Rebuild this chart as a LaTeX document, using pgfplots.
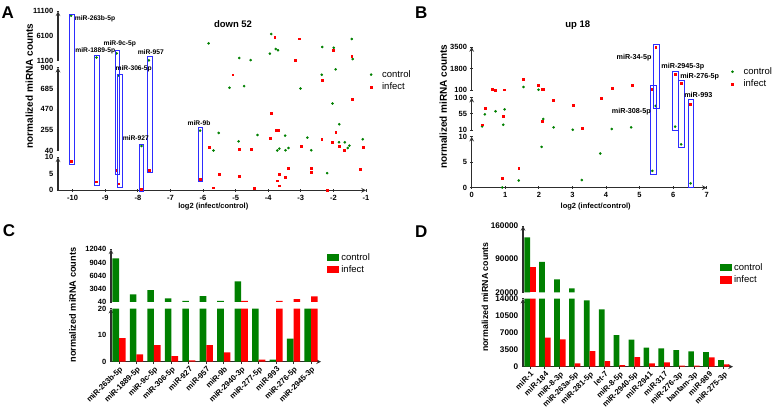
\documentclass[border=0pt]{standalone}
\usepackage{pgfplots}
\pgfplotsset{compat=1.18}
\usepackage{pgfplotstable}
\usepackage{fontspec}
\setmainfont{Liberation Sans}
\definecolor{cg}{RGB}{0,128,0}
\definecolor{cr}{RGB}{255,0,0}
\definecolor{cb}{RGB}{45,45,255}
\definecolor{axc}{RGB}{45,45,45}
\newcommand{\tf}{\bfseries\fontsize{7.5}{8}\selectfont}
\newcommand{\lf}{\fontsize{9.5}{11}\selectfont}
\newcommand{\af}{\bfseries\fontsize{6.7}{7}\selectfont}
\newcommand{\bbf}{\bfseries\fontsize{7.2}{8}\selectfont}

\pgfplotstableread{
x y
-10.05 10220
-9.27 1750
-8.65 2590
-7.66 1170
-3.91 6500
-5.83 4615
-1.44 5494
-2.34 3870
-1.99 3736
-3.77 3466
-3.70 3196
-3.95 2520
-4.89 1640
-4.54 1235
-1.41 1440
-8.59 820
-7.89 89
-6.09 248
-2.36 827
-1.93 883
-5.19 692
-4.74 709
-3.01 685
-2.03 529
-1.82 314
-5.52 224
-4.33 203
-3.48 196
-2.80 175
-1.10 158
-4.91 137
-5.68 42
-3.72 42
-3.66 61
-3.47 45
-3.38 68
-2.68 45
-1.83 127
-1.65 127
-1.56 68
-1.51 92
-2.19 5.2
}\Agreen

\pgfplotstableread{
x y
-3.80 5832
-3.04 5560
-2.01 3196
-3.17 1235
-1.44 1980
-5.09 827
-2.34 772
-1.41 570
-3.91 425
-1.93 231
-3.76 255
-3.70 248
-3.94 168
-2.36 158
-5.82 80
-4.89 54
-4.53 54
-3.00 82
-2.03 127
-1.83 89
-1.66 42
-1.09 75
-10.05 8.7
-9.27 2.6
-8.65 6.2
-8.59 2.0
-7.89 0.3
-7.66 6.2
-6.09 3.4
-5.51 4.8
-4.90 4.4
-5.68 0.8
-4.43 0.5
-3.39 6.8
-3.66 4.9
-3.47 4.1
-3.72 2.9
-3.66 1.4
-2.68 6.6
-2.68 5.4
-2.19 0.1
-1.19 6.5
}\Ared

\pgfplotstableread{
x y
1.54 337
1.99 126
0.39 53.6
0.71 62
0.98 67.5
0.94 24.8
0.31 20
2.13 40.6
2.44 17.4
3.01 10.5
4.17 12.8
4.75 17.4
5.48 77
6.06 19.3
2.08 8.0
3.83 6.7
1.40 1.4
0.91 0.05
3.28 1.5
5.38 3.3
6.24 8.5
6.52 0.85
}\Bgreen

\pgfplotstableread{
x y
0.62 150
0.71 110
0.98 125
1.54 943
1.99 495
2.09 153
2.14 179
4.18 232
4.77 495
5.48 3450
5.38 150
6.06 1339
6.24 627
2.44 94
3.01 79.6
3.85 98
0.40 70
0.94 48
0.31 24.8
2.09 35
3.28 14.6
6.52 82
1.40 3.8
0.91 1.8
}\Bred

\pgfplotstableread{
i ctrl inf
0 10000 8.9
1 1780 2.8
2 2770 6.3
3 875 2.1
4 270 0.5
5 1400 6.3
6 300 3.5
7 4750 270
8 30 0.8
9 0.8 270
10 8.7 700
11 35 1330
}\Cdata

\pgfplotstableread{
i ctrl inf
0 136000 72800
1 84000 5970
2 47400 5630
3 28400 690
4 13650 3220
5 11800 1170
6 6500 340
7 5560 1990
8 3910 690
9 3770 890
10 3430 200
11 3160 200
12 3020 1920
13 1370 480
}\Ddata

\pgfplotsset{
  base/.style={scale only axis, anchor=south west,
    axis line style={-, draw=axc, line width=1.1pt},
    major tick style={draw=axc, line width=0.9pt},
    major tick length=2.5pt, tick align=outside, scaled ticks=false,
    /pgf/number format/fixed, /pgf/number format/1000 sep={}, /pgf/number format/assume math mode=true,
    tick label style={font=\tf}},
  lower/.style={base, axis x line=bottom, axis y line=left},
  upper/.style={base, axis x line=none, axis y line=left},
  gpt/.style={only marks, mark=*, mark size=1.1pt, color=cg},
  rpt/.style={only marks, mark=square*, mark size=0.95pt, color=cr},
  dot/.style={legend image code/.code={\path[draw=none,fill=none] (0pt,-0.1pt) rectangle (13pt,0.1pt); \draw[##1] plot coordinates {(4pt,0pt)};}},
  sw/.style={legend image code/.code={\fill[##1] (0pt,-3.7pt) rectangle (12.5pt,3.7pt);}},
  scleg/.style={legend style={draw=none, fill=none, inner sep=0pt, anchor=west, font=\lf, row sep=0pt}, legend cell align=left},
}

\begin{document}
\begin{tikzpicture}[x=1pt,y=1pt]
\path[use as bounding box] (0,0) rectangle (778,414);

% ---------------- Panel A ----------------
\begin{axis}[lower, at={(58pt,223.7pt)}, width=308pt, height=33pt,
  xmin=-10.45, xmax=-1, ymin=0, ymax=10, xtick={-10,...,-1}, ytick={0,5,10},
  clip=false, restrict y to domain=0:10]
\addplot[gpt] table[x=x,y=y] {\Agreen};
\addplot[rpt] table[x=x,y=y] {\Ared};
\coordinate (a1b) at (axis cs:-9.94,7.7);
\coordinate (a2b) at (axis cs:-9.19,1.6);
\coordinate (a3b) at (axis cs:-8.55,4.85);
\coordinate (a4b) at (axis cs:-8.46,0.8);
\coordinate (a5b) at (axis cs:-7.82,-0.4);
\coordinate (a6b) at (axis cs:-7.54,5.25);
\coordinate (a7b) at (axis cs:-6.01,2.7);
\end{axis}
\begin{axis}[upper, at={(58pt,263.3pt)}, width=308pt, height=83pt,
  xmin=-10.45, xmax=-1, ymin=40, ymax=900, ytick={40,255,470,685,900},
  clip=false, restrict y to domain=40:900, scleg,
  legend style={at={(rel axis cs:1.003,0.842)}}]
\addplot[gpt, dot] table[x=x,y=y] {\Agreen};
\addplot[rpt, dot] table[x=x,y=y] {\Ared};
\legend{control,infect}
\coordinate (a4t) at (axis cs:-8.63,827);
\coordinate (a5t) at (axis cs:-7.95,109);
\coordinate (a7t) at (axis cs:-6.14,283);
\end{axis}
\begin{axis}[upper, at={(58pt,353.3pt)}, width=308pt, height=49.4pt,
  xmin=-10.45, xmax=-1, ymin=1100, ymax=11100, ytick={1100,6100,11100},
  clip=false, restrict y to domain=1100:11100]
\addplot[gpt] table[x=x,y=y] {\Agreen};
\addplot[rpt] table[x=x,y=y] {\Ared};
\coordinate (a1t) at (axis cs:-10.11,10492);
\coordinate (a2t) at (axis cs:-9.32,2249);
\coordinate (a3t) at (axis cs:-8.70,3263);
\coordinate (a6t) at (axis cs:-7.71,1911);
\end{axis}
\foreach \k in {1,...,7} {\draw[cb, line width=1pt] (a\k t) rectangle (a\k b);}
\node[anchor=west, inner sep=0pt, font=\af] at (74.7,395) {miR-263b-5p};
\node[inner sep=0pt, font=\af] at (95.3,363.7) {miR-1889-5p};
\node[inner sep=0pt, font=\af] at (119.8,370.7) {miR-9c-5p};
\node[inner sep=0pt, font=\af] at (133.7,345) {miR-306-5p};
\node[inner sep=0pt, font=\af] at (150.8,362) {miR-957};
\node[inner sep=0pt, font=\af] at (135.8,276) {miR-927};
\node[inner sep=0pt, font=\af] at (199,290.7) {miR-9b};
\node[font=\bfseries\fontsize{9.5}{11}\selectfont] at (233,390) {down 52};
\node[font=\bfseries\fontsize{7.5}{9}\selectfont] at (213.3,207.3) {log2 (infect/control)};
\node[rotate=90, font=\bfseries\fontsize{10}{12}\selectfont] at (29.3,328) {normalized miRNA counts};
\node[anchor=base west, inner sep=0pt, font=\bfseries\fontsize{17}{20}\selectfont] at (1.5,395.7) {A};

% ---------------- Panel B ----------------
\begin{axis}[lower, at={(471.7pt,226.3pt)}, width=235pt, height=51pt,
  xmin=0, xmax=7, ymin=0, ymax=10, xtick={0,...,7}, ytick={0,5,10},
  clip=false, restrict y to domain=0:10]
\addplot[gpt] table[x=x,y=y] {\Bgreen};
\addplot[rpt] table[x=x,y=y] {\Bred};
\coordinate (b2b) at (axis cs:5.49,2.55);
\coordinate (b4b) at (axis cs:6.33,7.84);
\coordinate (b5b) at (axis cs:6.62,0);
\end{axis}
\begin{axis}[upper, at={(471.7pt,284pt)}, width=235pt, height=32.3pt,
  xmin=0, xmax=7, ymin=10, ymax=100, ytick={10,55,100},
  clip=false, restrict y to domain=10.01:100]
\addplot[gpt] table[x=x,y=y] {\Bgreen};
\addplot[rpt] table[x=x,y=y] {\Bred};
\coordinate (b1b) at (axis cs:5.59,71);
\coordinate (b3b) at (axis cs:6.15,7.2);
\coordinate (b5t) at (axis cs:6.45,95.3);
\end{axis}
\begin{axis}[upper, at={(471.7pt,324pt)}, width=235pt, height=43pt,
  xmin=0, xmax=7, ymin=100, ymax=3500, ytick={100,1800,3500},
  clip=false, restrict y to domain=100.01:3500, scleg,
  legend style={at={(rel axis cs:1.092,0.279)}}]
\addplot[gpt, dot] table[x=x,y=y] {\Bgreen};
\addplot[rpt, dot] table[x=x,y=y] {\Bred};
\legend{control,infect}
\coordinate (b1t) at (axis cs:5.41,3659);
\coordinate (b2t) at (axis cs:5.32,416);
\coordinate (b3t) at (axis cs:5.98,1550);
\coordinate (b4t) at (axis cs:6.17,812);
\end{axis}
\foreach \k in {1,...,5} {\draw[cb, line width=1pt] (b\k t) rectangle (b\k b);}
\node[inner sep=0pt, font=\bbf] at (634,356) {miR-34-5p};
\node[inner sep=0pt, font=\bbf] at (682.8,347) {miR-2945-3p};
\node[inner sep=0pt, font=\bbf] at (699.7,337.7) {miR-276-5p};
\node[inner sep=0pt, font=\bbf] at (698.3,318.7) {miR-993};
\node[inner sep=0pt, font=\bbf] at (631.3,302) {miR-308-5p};
\node[font=\bfseries\fontsize{9.5}{11}\selectfont] at (577.7,388.7) {up 18};
\node[font=\bfseries\fontsize{7.5}{9}\selectfont] at (595.7,207.3) {log2 (infect/control)};
\node[rotate=90, font=\bfseries\fontsize{10}{12}\selectfont] at (443.3,307.3) {normalized miRNA counts};
\node[anchor=base west, inner sep=0pt, font=\bfseries\fontsize{17}{20}\selectfont] at (415,395.7) {B};

% ---------------- Panel C ----------------
\begin{axis}[lower, at={(111pt,52.3pt)}, width=210pt, height=53pt,
  xmin=-0.46, xmax=11.57, ymin=0, ymax=20, ytick={0,10,20},
  ybar=0pt, bar width=6.6pt, xtick={0,...,11}, restrict y to domain*=0:20,
  xticklabels={miR-263b-5p,miR-1889-5p,miR-9c-5p,miR-306-5p,miR-927,miR-957,miR-9b,miR-2940-3p,miR-277-5p,miR-993,miR-276-5p,miR-2945-3p},
  xticklabel style={rotate=45, anchor=north east, inner sep=1pt, font=\bfseries\fontsize{7.8}{8}\selectfont}]
\addplot[fill=cg, draw=none] table[x=i,y=ctrl] {\Cdata};
\addplot[fill=cr, draw=none] table[x=i,y=inf] {\Cdata};
\end{axis}
\begin{axis}[upper, at={(111pt,112pt)}, width=210pt, height=52.7pt,
  xmin=-0.46, xmax=11.57, ymin=40, ymax=12040, ytick={40,3040,6040,9040,12040},
  ybar=0pt, bar width=6.6pt, scleg, restrict y to domain=40:12040,
  legend style={at={(rel axis cs:1.027,0.73)}}]
\addplot[fill=cg, draw=none, sw] table[x=i,y=ctrl] {\Cdata};
\addplot[fill=cr, draw=none, sw] table[x=i,y=inf] {\Cdata};
\legend{control,infect}
\end{axis}
\node[rotate=90, font=\bfseries\fontsize{9.2}{11}\selectfont] at (72.7,109) {normalized miRNA counts};
\node[anchor=base west, inner sep=0pt, font=\bfseries\fontsize{17}{20}\selectfont] at (2.7,177) {C};

% ---------------- Panel D ----------------
\begin{axis}[lower, at={(523pt,47.3pt)}, width=210pt, height=68pt,
  xmin=-0.47, xmax=13.62, ymin=0, ymax=14000, ytick={0,3500,7000,10500,14000},
  ybar=0pt, bar width=5.7pt, xtick={0,...,13}, restrict y to domain*=0:14000,
  tick label style={font=\bfseries\fontsize{8.2}{9}\selectfont},
  xticklabels={miR-1,miR-184,miR-8-3p,miR-263a-5p,miR-281-5p,let-7,miR-8-5p,miR-2940-5p,miR-2941,miR-317,miR-276-3p,bantam-3p,miR-989,miR-275-3p},
  xticklabel style={rotate=45, anchor=north east, inner sep=1pt, font=\bfseries\fontsize{7.8}{8}\selectfont}]
\addplot[fill=cg, draw=none] table[x=i,y=ctrl] {\Ddata};
\addplot[fill=cr, draw=none] table[x=i,y=inf] {\Ddata};
\end{axis}
\begin{axis}[upper, at={(523pt,121.7pt)}, width=210pt, height=66.3pt,
  xmin=-0.47, xmax=13.62, ymin=20000, ymax=160000, ytick={20000,90000,160000},
  tick label style={font=\bfseries\fontsize{8.2}{9}\selectfont},
  ybar=0pt, bar width=5.7pt, scleg, restrict y to domain=20000:160000,
  legend style={at={(rel axis cs:0.935,0.28)}}]
\addplot[fill=cg, draw=none, sw] table[x=i,y=ctrl] {\Ddata};
\addplot[fill=cr, draw=none, sw] table[x=i,y=inf] {\Ddata};
\legend{control,infect}
\end{axis}
\node[rotate=90, font=\bfseries\fontsize{8.8}{11}\selectfont] at (485,117) {normalized miRNA counts};
\node[anchor=base west, inner sep=0pt, font=\bfseries\fontsize{17}{20}\selectfont] at (415,176) {D};
\end{tikzpicture}
\end{document}
